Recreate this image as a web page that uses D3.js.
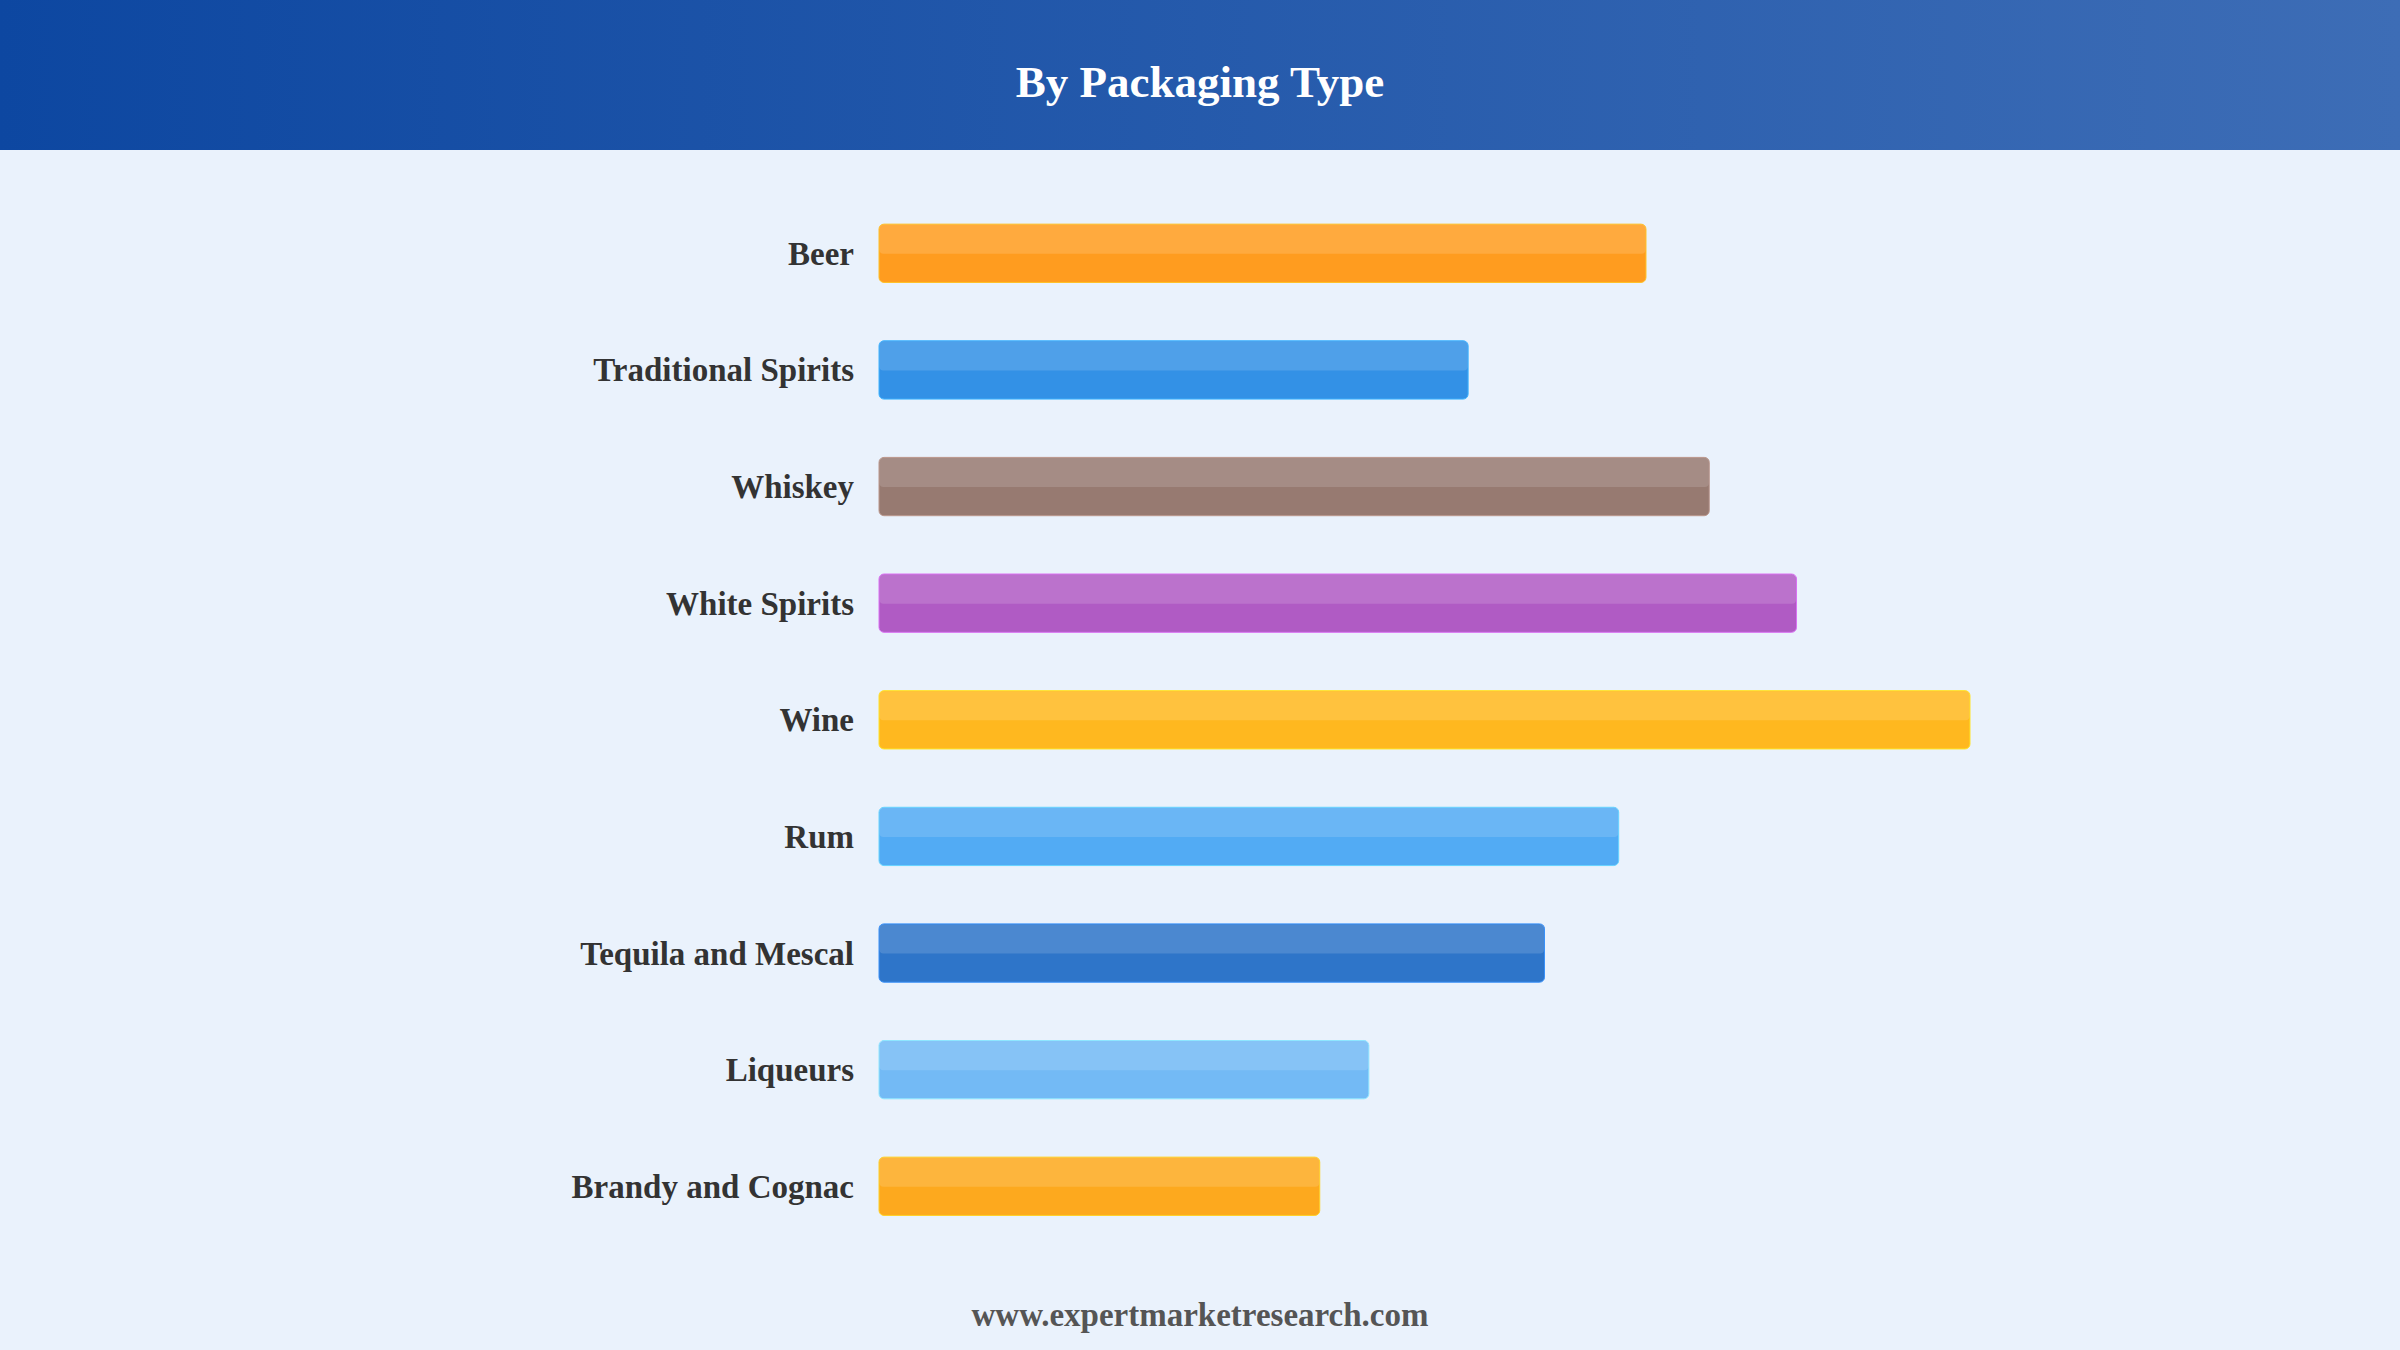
<!DOCTYPE html>
<html>
<head>
<meta charset="utf-8">
<script src="https://cdn.jsdelivr.net/npm/d3@7"></script>
<style>
  html, body { margin: 0; padding: 0; background: #eaf2fc; }
  svg { display: block; }
</style>
</head>
<body>
<div id="chart"></div>
<script>
// Chart data
var categories = ["Beer", "Traditional Spirits", "Whiskey", "White Spirits", "Wine", "Rum", "Tequila and Mescal", "Liqueurs", "Brandy and Cognac"];
var values = [7.03, 5.4, 7.61, 8.41, 10.0, 6.78, 6.1, 4.49, 4.04];
var barColors = ["#ff9c1f", "#3391e6", "#977a71", "#b05bc4", "#ffb81f", "#52abf4", "#2e75c9", "#73baf5", "#fda91e"];
var titleText = "By Packaging Type";
var footerText = "www.expertmarketresearch.com";

// Chart parameters
var properties = { width: 2400, height: 1350, headerHeight: 150 };

var svg = d3.select("#chart")
    .append("svg")
    .attr("width", properties.width)
    .attr("height", properties.height);

// Header gradient
var defs = svg.append("defs");
var grad = defs.append("linearGradient").attr("id", "headerGrad")
    .attr("x1", "0%").attr("x2", "100%").attr("y1", "0%").attr("y2", "0%");
grad.append("stop").attr("offset", "0%").attr("stop-color", "#0d47a1");
grad.append("stop").attr("offset", "100%").attr("stop-color", "#3d6db6");

svg.append("rect")
    .attr("width", properties.width)
    .attr("height", properties.height)
    .attr("fill", "#eaf2fc");

svg.append("rect")
    .attr("width", properties.width)
    .attr("height", properties.headerHeight)
    .attr("fill", "url(#headerGrad)");

svg.append("text")
    .attr("x", properties.width / 2)
    .attr("y", 97)
    .attr("text-anchor", "middle")
    .attr("fill", "#ffffff")
    .style("font-family", "'Liberation Serif', 'Times New Roman', serif")
    .style("font-weight", "bold")
    .style("font-size", "45px")
    .text(titleText);

// Scales
var y = d3.scaleBand()
    .domain(categories)
    .range([195, 1244.6])
    .paddingInner(0.5)
    .paddingOuter(0.25);

var x = d3.scaleLinear()
    .domain([0, 10])
    .range([879, 1970]);

var bars = svg.append("g").attr("class", "bars")
    .selectAll("g")
    .data(categories)
    .enter()
    .append("g");

// Base bar
bars.append("rect")
    .attr("x", x(0))
    .attr("y", function (d) { return y(d); })
    .attr("width", function (d, i) { return x(values[i]) - x(0); })
    .attr("height", y.bandwidth())
    .attr("rx", 5)
    .attr("fill", function (d, i) { return barColors[i]; })
    .attr("stroke", function (d, i) { return d3.color(barColors[i]).brighter(0.6); })
    .attr("stroke-width", 1);

// Lighter top half
bars.append("rect")
    .attr("x", x(0) + 0.5)
    .attr("y", function (d) { return y(d) + 0.5; })
    .attr("width", function (d, i) { return x(values[i]) - x(0) - 1; })
    .attr("height", y.bandwidth() / 2)
    .attr("rx", 4)
    .attr("fill", "#ffffff")
    .attr("fill-opacity", 0.14);

// Category labels
bars.append("text")
    .attr("x", x(0) - 25)
    .attr("y", function (d) { return y(d) + y.bandwidth() / 2; })
    .attr("dy", "0.35em")
    .attr("text-anchor", "end")
    .attr("fill", "#333333")
    .style("font-family", "'Liberation Serif', 'Times New Roman', serif")
    .style("font-weight", "bold")
    .style("font-size", "33px")
    .text(function (d) { return d; });

// Footer
svg.append("text")
    .attr("x", properties.width / 2)
    .attr("y", 1326)
    .attr("text-anchor", "middle")
    .attr("fill", "#555555")
    .style("font-family", "'Liberation Serif', 'Times New Roman', serif")
    .style("font-weight", "bold")
    .style("font-size", "33px")
    .text(footerText);
</script>
</body>
</html>
